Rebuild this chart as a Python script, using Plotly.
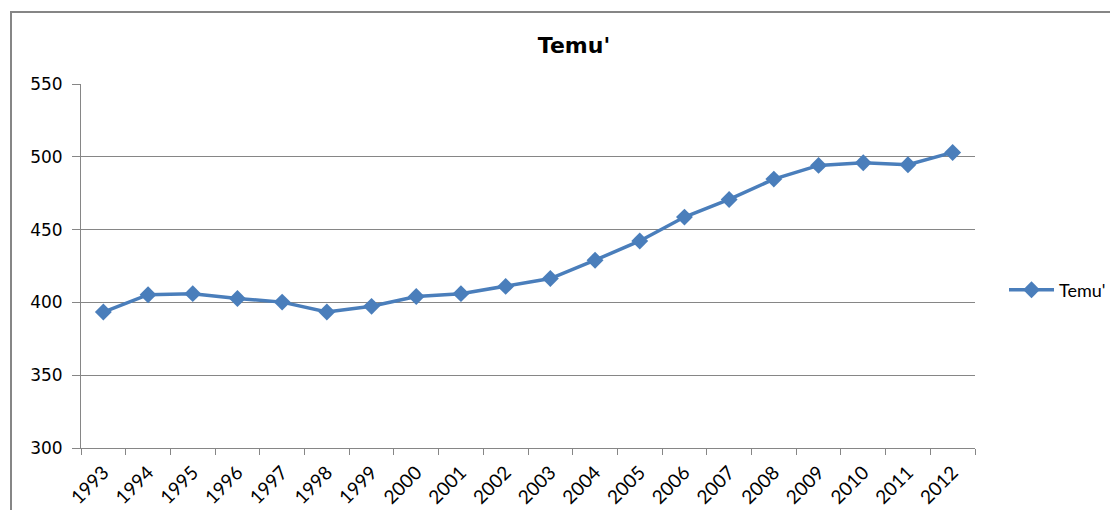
import plotly.graph_objects as go

years = ["1993", "1994", "1995", "1996", "1997", "1998", "1999", "2000", "2001", "2002",
         "2003", "2004", "2005", "2006", "2007", "2008", "2009", "2010", "2011", "2012"]
values = [393.4, 405.3, 406.0, 402.7, 400.2, 393.4, 397.3, 404.1, 406.0, 411.0,
          416.4, 429.0, 442.2, 458.6, 470.7, 484.7, 494.1, 495.9, 494.5, 503.0]
series_name = "Temu'"
y_ticks = [300, 350, 400, 450, 500, 550]

# page has an 8px body margin, so the figure starts at (8, 8)
OFF = 8
W, H = 1118 - OFF, 510 - OFF
L, R, T, B = 81 - OFF, 975 - OFF, 84 - OFF, 448 - OFF
PW, PH = R - L, B - T

fig = go.Figure()
fig.add_trace(go.Scatter(
    x=years, y=values, name=series_name, mode="lines+markers",
    line=dict(color="#4A7EBB", width=3.5),
    marker=dict(symbol="diamond", size=13, color="#4A7EBB"),
))

fig.update_layout(
    width=W, height=H,
    margin=dict(l=L, r=W - R, t=T, b=H - B, pad=0, autoexpand=False),
    paper_bgcolor="white", plot_bgcolor="white",
    title=dict(text="<b>Temu'</b>", x=(574 - OFF) / W, xref="container", xanchor="center",
               y=1 - (45 - OFF) / H, yref="container", yanchor="middle",
               font=dict(family="DejaVu Sans", size=22, color="#000000")),
    showlegend=True,
    legend=dict(x=(1004 - OFF - L) / PW, xanchor="left",
                y=(B - (290 - OFF)) / PH, yanchor="middle",
                font=dict(family="Lato", size=18, color="#000000"),
                itemwidth=45, bgcolor="rgba(0,0,0,0)"),
    xaxis=dict(type="category", range=[-0.5, len(years) - 0.5], automargin=False,
               tickson="boundaries", ticks="outside", ticklen=6,
               tickcolor="#868686", showline=True, linecolor="#868686", linewidth=1,
               showgrid=False, tickangle=-45, ticklabelstandoff=5,
               tickfont=dict(family="Lato", size=19, color="#000000")),
    yaxis=dict(range=[300, 550], tickvals=y_ticks, ticks="outside", ticklen=8,
               automargin=False,
               tickcolor="#868686", showline=True, linecolor="#868686", linewidth=1,
               showgrid=True, gridcolor="#868686", gridwidth=1, zeroline=False,
               tickfont=dict(family="DejaVu Sans", size=17, color="#000000"),
               ticklabelstandoff=6),
)

# outer chart frame (extends beyond the visible area on the right and bottom)
fig.add_shape(type="rect", xref="paper", yref="paper",
              x0=(11 - OFF - L) / PW, x1=(1140 - OFF - L) / PW,
              y0=(B - 530) / PH, y1=(B - (12 - OFF)) / PH,
              line=dict(color="#868686", width=2), fillcolor="rgba(0,0,0,0)", layer="below")

fig.write_html("out.html")
